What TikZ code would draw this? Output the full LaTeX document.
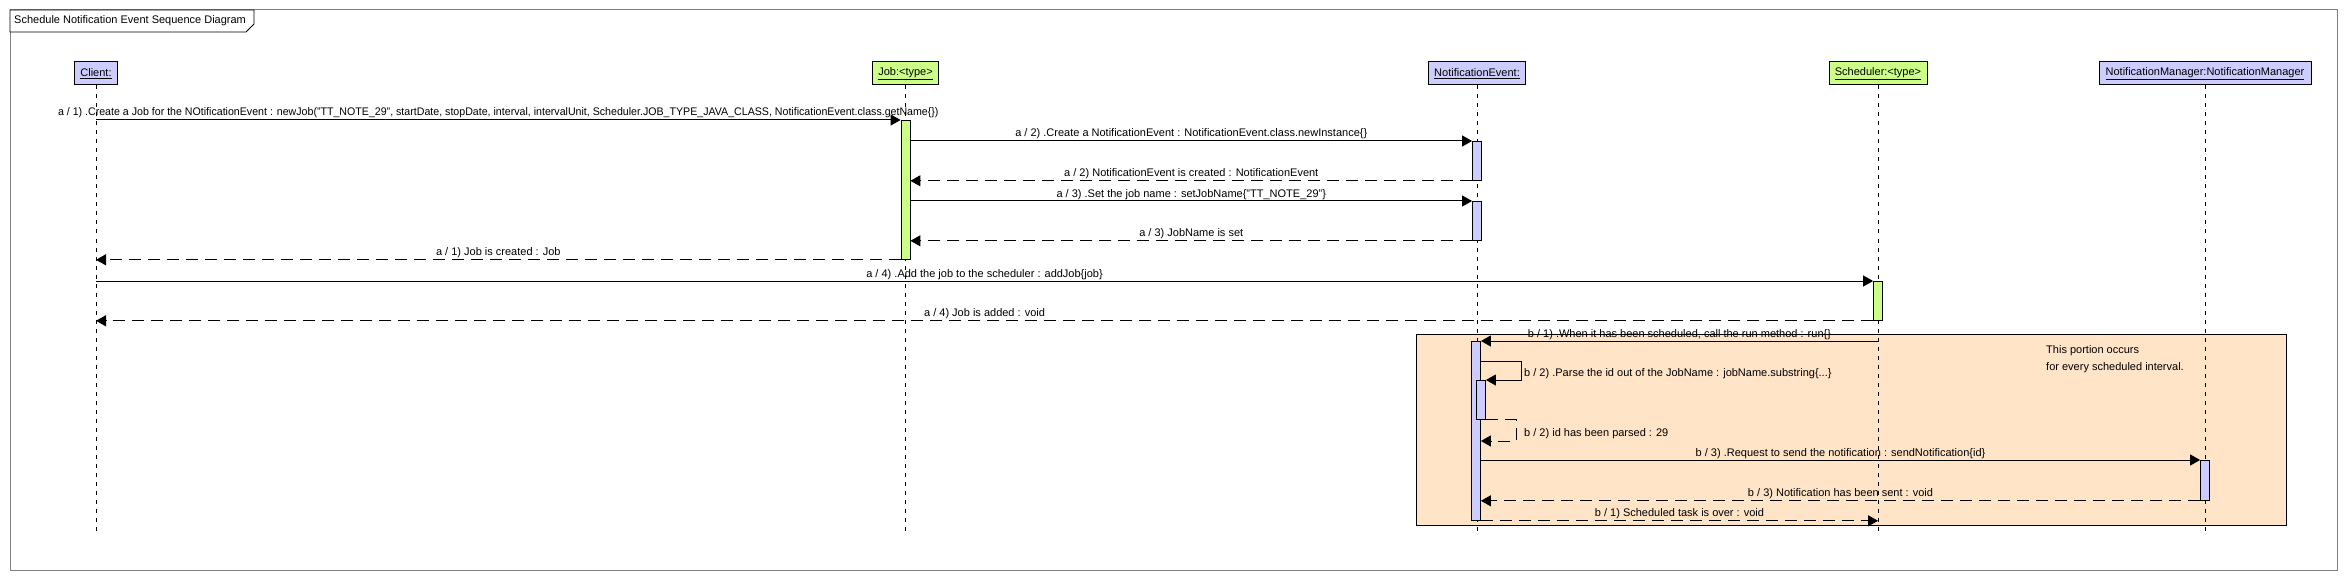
\documentclass[tikz,border=0pt]{standalone}
\usepackage{fontspec}
\setmainfont{Liberation Sans}
\usetikzlibrary{arrows.meta}
\definecolor{lilac}{RGB}{204,204,255}
\definecolor{lime}{RGB}{204,255,136}
\definecolor{peach}{RGB}{255,228,200}
\definecolor{framegrey}{RGB}{128,128,128}
\begin{document}
\begin{tikzpicture}[x=1pt,y=-1pt,
  txt/.style={font=\fontsize{11}{13}\selectfont, inner sep=0pt},
  head/.style={draw, line width=1pt, minimum height=23pt, inner sep=0pt, font=\fontsize{11}{13}\selectfont},
  bar/.style={draw, line width=0.8pt, minimum width=9pt, inner sep=0pt, anchor=north},
  lifeline/.style={line width=0.8pt, dash pattern=on 4pt off 5pt},
  msg/.style={line width=1pt, -{Triangle[length=10pt,width=11pt]}},
  ret/.style={msg, dash pattern=on 12pt off 7pt},
  lbl/.style={txt, midway, anchor=base, yshift=4pt},
]
\path[use as bounding box] (0,0) rectangle (2347,580);
% frame
\draw[framegrey, line width=1pt] (10,10) rectangle (2337,570);
\draw[fill=white, line width=0.8pt] (10,10) -- (254,10) -- (254,24) -- (246,32) -- (10,32) -- cycle;
\node[txt, anchor=west] (title) at (14,21) {Schedule Notification Event Sequence Diagram};
% loop box
\node[draw, fill=peach, line width=0.8pt, minimum width=870pt, minimum height=191pt, inner sep=0pt, anchor=north west] (loop) at (1416,334) {};
\node[txt, anchor=base west] (note1) at (2046,353) {This portion occurs};
\node[txt, anchor=base west] (note2) at (2046,370) {for every scheduled interval.};
% heads
\node[head, fill=lilac, minimum width=43pt] (client) at (96,73.5) {\underline{Client:}};
\node[head, fill=lime, minimum width=66pt] (job) at (905.5,73.5) {\underline{Job:<type>}};
\node[head, fill=lilac, minimum width=97pt] (ne) at (1477,73.5) {\underline{NotificationEvent:}};
\node[head, fill=lime, minimum width=98pt] (sched) at (1878,73.5) {\underline{Scheduler:<type>}};
\node[head, fill=lilac, minimum width=212pt] (nm) at (2205,73.5) {\underline{NotificationManager:NotificationManager}};
% lifelines
\coordinate (lifeend) at (0,535);
\foreach \h in {client,job,ne,sched,nm}{
  \draw[lifeline] (\h.south) -- (\h.south |- lifeend);
}
% activation bars
\node[bar, fill=lime, minimum height=139pt] (jobbar) at (905.5,120) {};
\node[bar, fill=lilac, minimum height=39pt] (ne1) at (1477,141) {};
\node[bar, fill=lilac, minimum height=39pt] (ne2) at (1477,201) {};
\node[bar, fill=lime, minimum height=39pt] (schbar) at (1878,281) {};
\node[bar, fill=lilac, minimum height=179pt] (ne3) at (1476,341) {};
\node[bar, fill=lilac, minimum height=39pt] (ne4) at (1481,380) {};
\node[bar, fill=lilac, minimum height=40pt] (nmbar) at (2205,460) {};
% messages
\draw[msg] (client.south |- jobbar.north) -- node[lbl] {\scalebox{0.966}[1]{a / 1) .Create a Job for the NOtificationEvent : newJob("TT\_NOTE\_29", startDate, stopDate, interval, intervalUnit, Scheduler.JOB\_TYPE\_JAVA\_CLASS, NotificationEvent.class.getName\{\})}} (jobbar.north west);
\draw[msg] (jobbar.east |- ne1.north) -- node[lbl] {a / 2) .Create a NotificationEvent : NotificationEvent.class.newInstance\{\}} (ne1.north west);
\draw[ret] (ne1.south west) -- node[lbl] {a / 2) NotificationEvent is created : NotificationEvent} (jobbar.east |- ne1.south);
\draw[msg] (jobbar.east |- ne2.north) -- node[lbl] {a / 3) .Set the job name : setJobName\{"TT\_NOTE\_29"\}} (ne2.north west);
\draw[ret] (ne2.south west) -- node[lbl] {a / 3) JobName is set} (jobbar.east |- ne2.south);
\draw[ret] (jobbar.south west) -- node[lbl] {a / 1) Job is created : Job} (client.south |- jobbar.south);
\draw[msg] (client.south |- schbar.north) -- node[lbl] {a / 4) .Add the job to the scheduler : addJob\{job\}} (schbar.north west);
\draw[ret] (schbar.south west) -- node[lbl] {a / 4) Job is added : void} (client.south |- schbar.south);
\draw[msg] (sched.south |- ne3.north) -- node[lbl] {b / 1) .When it has been scheduled, call the run method : run\{\}} (ne3.north east);
\coordinate (selfturn) at (1521,361);
\draw[msg] (ne3.east |- selfturn) -- (selfturn) |- (ne4.north east);
\node[txt, anchor=base west] (selflbl) at (1524,376) {b / 2) .Parse the id out of the JobName : jobName.substring\{...\}};
\coordinate (retturn) at (1516,441);
\draw[ret] (ne4.south east) -| (retturn) -- (ne3.east |- retturn);
\node[txt, anchor=base west] (retlbl) at (1524,436) {b / 2) id has been parsed : 29};
\draw[msg] (ne3.east |- nmbar.north) -- node[lbl] {b / 3) .Request to send the notification : sendNotification\{id\}} (nmbar.north west);
\draw[ret] (nmbar.south west) -- node[lbl] {b / 3) Notification has been sent : void} (ne3.east |- nmbar.south);
\draw[ret] (ne3.south east) -- node[lbl] {b / 1) Scheduled task is over : void} (sched.south |- ne3.south);
\end{tikzpicture}
\end{document}
